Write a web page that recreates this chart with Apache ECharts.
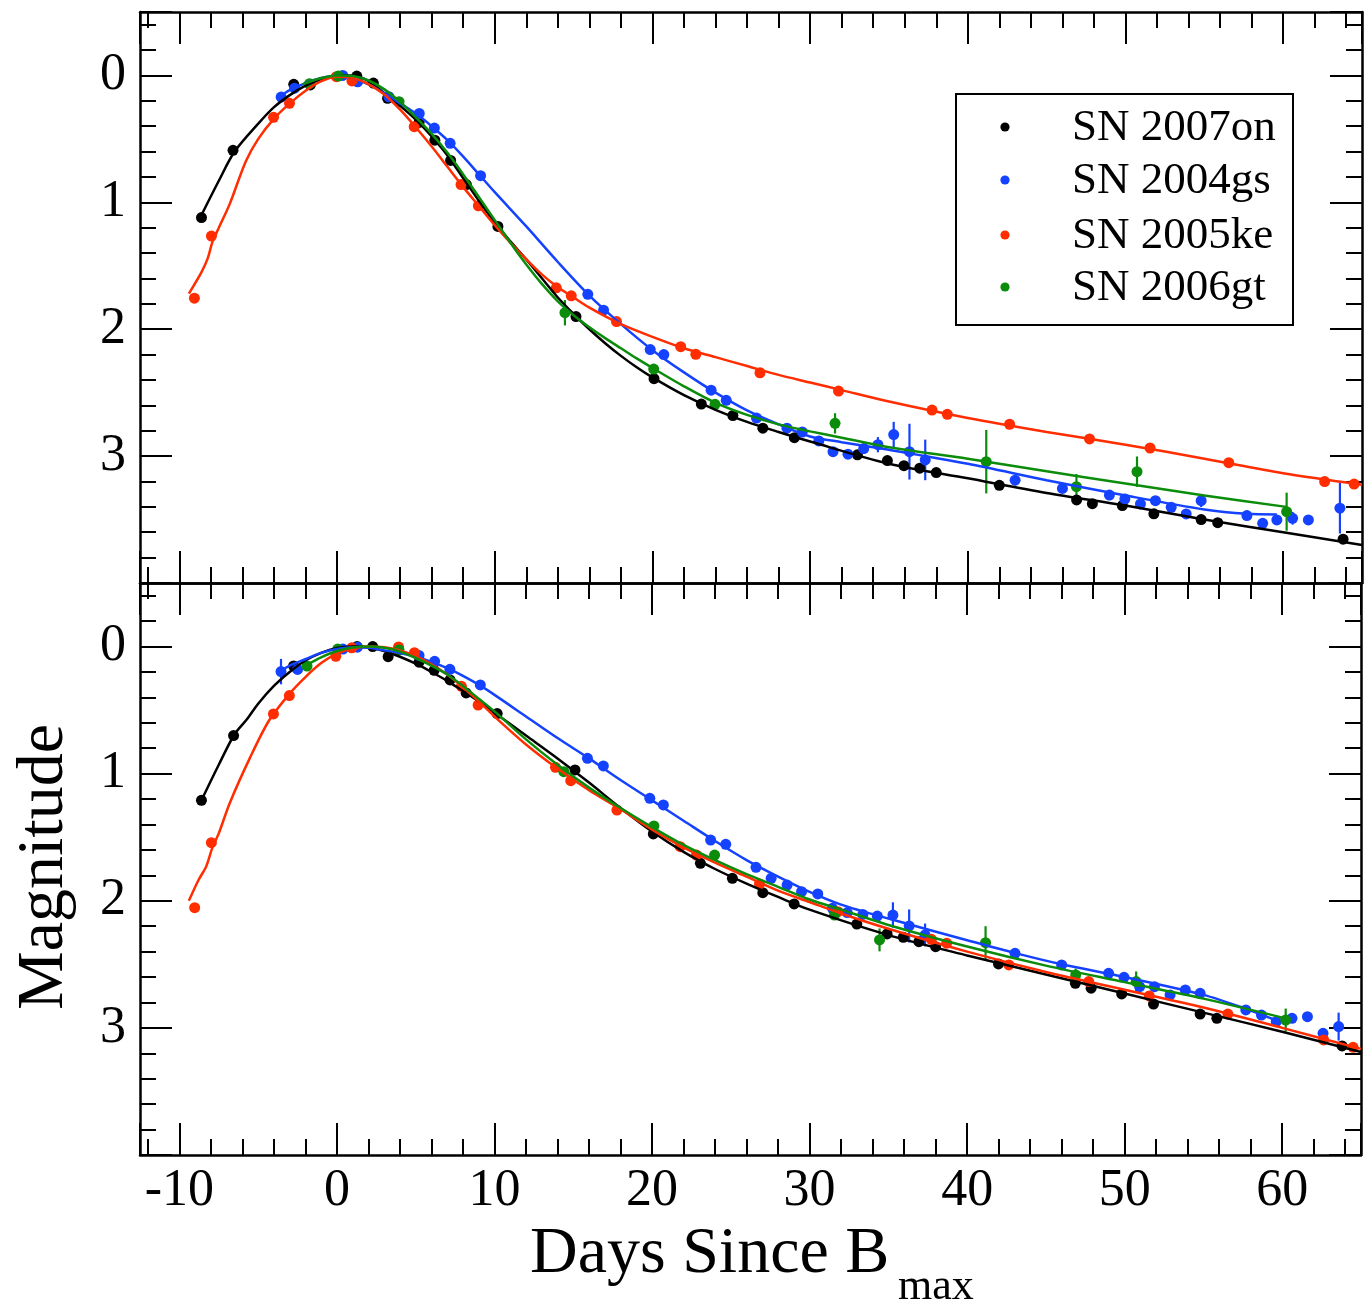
<!DOCTYPE html>
<html>
<head>
<meta charset="utf-8">
<script src="https://cdn.jsdelivr.net/npm/echarts@6/dist/echarts.min.js"></script>
<style>
  html, body { margin: 0; padding: 0; background: #fff; }
  #chart { width: 1364px; height: 1302px; }
</style>
</head>
<body>
<div id="chart"></div>
<script>
// Light curves: [day since B max, magnitude, (optional) error]
const seriesNames = ['SN 2007on', 'SN 2004gs', 'SN 2005ke', 'SN 2006gt'];
const seriesColors = ['#000000', '#1442ff', '#ff2d00', '#0b8c0b'];

// ---- upper panel ----
const topBlack = [[-8.6,1.12],[-6.6,0.59],[-2.75,0.07],[-1.7,0.075],[1.25,0.005],[2.3,0.06],[3.2,0.18],[5.2,0.37],[6.2,0.51],[7.2,0.67],[8.2,0.86],[10.2,1.19],[15.15,1.90],[20.1,2.39],[23.1,2.59],[25.1,2.68],[27.0,2.78],[29.0,2.855],[33.0,2.99],[34.9,3.035],[35.95,3.075],[36.95,3.095],[38.0,3.13],[42.0,3.23],[46.9,3.345],[47.9,3.375],[49.8,3.39],[51.8,3.455],[54.8,3.50],[55.85,3.525],[63.8,3.655]];
const topBlue = [[-3.55,0.17],[-2.7,0.1],[0.36,0.0],[1.3,0.05],[3.28,0.168],[5.21,0.30],[6.17,0.415],[7.17,0.535],[9.1,0.79],[15.9,1.725],[16.9,1.85],[19.86,2.16],[20.72,2.2],[23.72,2.48],[24.68,2.56],[26.6,2.70],[28.53,2.78],[29.5,2.81],[30.55,2.88],[31.45,2.965],[32.4,2.985,0.03],[33.4,2.94],[34.3,2.91,0.06],[35.3,2.83,0.1],[36.3,2.965,0.22],[37.3,3.03,0.16],[43.0,3.19,0.04],[46.0,3.255],[48.98,3.307],[49.96,3.338,0.04],[50.95,3.377],[51.9,3.351],[52.9,3.403],[53.85,3.456,0.04],[54.8,3.351,0.05],[57.7,3.469],[58.7,3.53],[59.6,3.503],[60.6,3.49,0.05],[61.6,3.503,0.03],[63.6,3.41,0.2]];
const topRed = [[-9.05,1.755],[-7.97,1.266],[-4.03,0.33],[-3.02,0.22],[-0.05,0.01],[0.94,0.043],[4.89,0.404],[7.86,0.86],[8.96,1.027],[13.9,1.674],[14.85,1.737],[17.72,1.94],[21.79,2.138],[22.75,2.198],[26.82,2.343],[31.8,2.487],[37.73,2.637],[38.7,2.671],[42.65,2.749],[47.72,2.865],[51.56,2.936],[56.55,3.052],[62.63,3.201],[64.5,3.22]];
const topGreen = [[-1.75,0.065],[0.08,0.005],[3.93,0.207],[14.45,1.87,0.1],[20.08,2.314],[23.97,2.592],[31.58,2.742,0.08],[41.17,3.044,0.25],[46.89,3.241,0.1],[50.73,3.123,0.12],[60.22,3.438,0.15]];

// template fits, upper panel
const topBlackFit = [[-8.6,1.1],[-7.5,0.83],[-6.5,0.6],[-5,0.38],[-4,0.25],[-3,0.155],[-2,0.08],[-1,0.03],[0,0.005],[1,0.0],[2,0.045],[3,0.14],[4,0.24],[5,0.35],[6,0.48],[7,0.63],[8,0.81],[9,0.99],[10,1.16],[11,1.31],[12,1.45],[13,1.6],[14,1.75],[15,1.88],[16,2.0],[17,2.11],[18,2.21],[19,2.3],[20,2.38],[22,2.52],[24,2.635],[26,2.73],[28,2.81],[30,2.885],[35,3.06],[40,3.175],[45,3.29],[50,3.39],[55,3.5],[60,3.6],[65,3.70]];
const topBlueFit = [[-3.8,0.18],[-3,0.115],[-2,0.06],[-1,0.02],[0,0.002],[1,0.02],[2,0.07],[3,0.14],[4,0.22],[5,0.3],[6,0.4],[7,0.51],[8,0.64],[9,0.78],[10,0.92],[12,1.19],[14,1.47],[16,1.735],[18,1.96],[20,2.165],[22,2.34],[24,2.5],[26,2.64],[28,2.75],[30,2.845],[32,2.89],[35,2.95],[40,3.06],[45,3.19],[50,3.31],[55,3.42],[57.7,3.455],[59.6,3.46]];
const topRedFit = [[-9.4,1.72],[-8.6,1.55],[-8.2,1.44],[-7.9,1.31],[-7.5,1.2],[-6.8,1.01],[-5.8,0.68],[-5,0.5],[-4,0.34],[-3,0.22],[-2,0.12],[-1,0.045],[0,0.01],[1,0.02],[2,0.07],[3,0.15],[4,0.27],[5,0.41],[6,0.56],[7,0.72],[8,0.88],[9,1.03],[10,1.18],[11,1.32],[12,1.45],[13,1.57],[14,1.67],[15,1.75],[16,1.83],[18,1.96],[20,2.06],[22,2.15],[24,2.22],[26,2.29],[28,2.36],[30,2.42],[32,2.48],[35,2.57],[40,2.70],[45,2.81],[50,2.91],[55,3.02],[60,3.135],[65,3.225]];
const topGreenFit = [[-2.2,0.07],[-1,0.02],[0,0.0],[1,0.005],[2,0.04],[3,0.11],[4,0.21],[5,0.33],[6,0.46],[7,0.61],[8,0.78],[9,0.96],[10,1.14],[11,1.32],[12,1.49],[13,1.645],[14,1.78],[15,1.89],[16,1.985],[17,2.07],[18,2.15],[19,2.23],[20,2.305],[22,2.45],[24,2.58],[26,2.675],[28,2.75],[30,2.805],[32,2.855],[35,2.93],[40,3.02],[45,3.12],[50,3.215],[55,3.31],[60.2,3.40]];

// ---- lower panel ----
const botBlack = [[-8.6,1.21],[-6.56,0.70],[-2.75,0.153],[1.28,0.0],[2.27,0.0],[3.25,0.08],[5.21,0.123],[6.17,0.187],[7.18,0.263],[8.2,0.365],[10.17,0.527],[15.11,0.971],[20.08,1.474],[23.07,1.705],[25.1,1.823],[27.03,1.936],[29.02,2.025],[33.0,2.183],[34.92,2.261],[35.95,2.287],[36.94,2.322],[38.0,2.361],[41.99,2.497],[46.87,2.649],[47.87,2.688],[49.81,2.733],[51.83,2.812],[54.79,2.891],[55.85,2.925],[63.8,3.142]];
const botBlue = [[-3.55,0.197,0.1],[-2.5,0.18],[0.38,0.02],[1.3,0.005],[5.21,0.07],[6.2,0.116],[7.17,0.179],[9.1,0.302],[15.9,0.879],[16.91,0.939],[19.86,1.194],[20.72,1.246],[23.72,1.522],[24.68,1.556],[26.6,1.737],[27.56,1.823],[28.57,1.876],[29.49,1.928],[30.52,1.946],[31.45,2.059],[32.39,2.093],[33.38,2.107],[34.3,2.12],[35.29,2.112,0.1],[36.32,2.198,0.13],[37.33,2.269,0.09],[43.04,2.413],[46.0,2.505],[48.98,2.571],[49.96,2.602],[50.95,2.676],[51.89,2.676],[52.88,2.741],[53.85,2.702],[54.79,2.728],[57.69,2.859],[58.68,2.899],[59.62,2.951],[60.62,2.925],[61.6,2.912],[62.59,3.043,0.04],[63.58,2.99,0.11]];
const botRed = [[-9.03,2.054],[-7.97,1.543],[-4.03,0.53],[-3.02,0.386],[-0.07,0.077],[0.94,0.01],[3.91,0.003],[4.92,0.048],[7.9,0.313],[8.96,0.46],[13.87,0.95],[14.84,1.055],[17.77,1.286],[21.79,1.574],[22.82,1.64],[26.82,1.868],[31.8,2.086],[37.73,2.303],[38.7,2.334],[42.65,2.505],[47.72,2.636],[51.56,2.749],[56.55,2.891],[62.63,3.095],[64.5,3.153]];
const botGreen = [[-1.9,0.153],[0.05,0.02],[3.94,0.027],[14.4,0.984],[20.12,1.411],[23.97,1.64],[31.58,2.112],[34.44,2.308,0.09],[41.17,2.33,0.13],[46.89,2.584,0.05],[50.73,2.636,0.08],[60.22,2.938,0.09]];

// template fits, lower panel
const botBlackFit = [[-8.6,1.21],[-7.5,0.93],[-6.5,0.69],[-5.7,0.57],[-5,0.45],[-4,0.31],[-3,0.2],[-2,0.11],[-1,0.05],[0,0.012],[1,0.0],[2,0.005],[3,0.035],[4,0.08],[5,0.135],[6,0.2],[7,0.27],[8,0.35],[9,0.43],[10,0.52],[12,0.70],[14,0.88],[16,1.07],[18,1.27],[20,1.455],[22,1.615],[24,1.75],[26,1.865],[28,1.97],[30,2.07],[35,2.27],[40,2.43],[45,2.58],[50,2.73],[55,2.88],[60,3.03],[65,3.19]];
const botBlueFit = [[-3.8,0.21],[-3,0.15],[-2,0.1],[-1,0.05],[0,0.02],[1,0.005],[2,0.01],[3,0.03],[4,0.05],[5,0.08],[6,0.12],[7,0.17],[8,0.23],[9,0.3],[10,0.38],[12,0.55],[14,0.72],[16,0.88],[18,1.05],[20,1.21],[22,1.37],[24,1.53],[26,1.68],[28,1.81],[30,1.93],[32,2.03],[35,2.14],[40,2.31],[43,2.41],[46,2.5],[50,2.6],[55,2.74],[57.7,2.85],[59.6,2.94]];
const botRedFit = [[-9.4,2.0],[-8.8,1.84],[-8.3,1.73],[-7.9,1.58],[-7.5,1.47],[-6.8,1.23],[-5.5,0.87],[-4.3,0.58],[-3,0.37],[-2,0.24],[-1,0.13],[0,0.055],[1,0.015],[2,0.0],[3,0.005],[4,0.03],[5,0.075],[6,0.14],[7,0.22],[8,0.32],[9,0.43],[10,0.55],[12,0.77],[14,0.96],[16,1.13],[18,1.28],[20,1.44],[22,1.58],[24,1.7],[26,1.81],[28,1.92],[30,2.01],[32,2.1],[35,2.22],[40,2.40],[45,2.56],[50,2.70],[55,2.84],[60,3.0],[65,3.165]];
const botGreenFit = [[-2,0.15],[-1,0.085],[0,0.035],[1,0.008],[2,0.0],[3,0.01],[4,0.04],[5,0.09],[6,0.15],[7,0.22],[8,0.31],[9,0.41],[10,0.51],[12,0.73],[14,0.93],[16,1.11],[18,1.27],[20,1.42],[22,1.56],[24,1.68],[26,1.79],[28,1.89],[30,1.99],[32,2.07],[35,2.19],[40,2.36],[45,2.51],[50,2.64],[55,2.77],[60.2,2.925]];

const xRange = [-12.5, 65];
const yRange = [-0.5, 4];
const yTickLabels = ['0', '1', '2', '3'];
const xTickLabels = ['-10', '0', '10', '20', '30', '40', '50', '60'];

const SERIF = "'Liberation Serif', 'DejaVu Serif', serif";

const chart = echarts.init(document.getElementById('chart'), null, { renderer: 'canvas' });

function xAxisDef(gridIndex, position, showLabels) {
  return {
    type: 'value', gridIndex, position,
    min: xRange[0], max: xRange[1],
    minInterval: 10, maxInterval: 10,
    axisLine: { onZero: false, lineStyle: { color: '#000', width: 2.5 } },
    axisTick: { inside: true, length: 32, lineStyle: { color: '#000', width: 2 } },
    minorTick: { show: true, splitNumber: 5, length: 16, lineStyle: { color: '#000', width: 2 } },
    splitLine: { show: false }, minorSplitLine: { show: false },
    axisLabel: showLabels ? {
      show: true, margin: 10, color: '#000', fontFamily: SERIF, fontSize: 52,
      showMinLabel: true, showMaxLabel: true,
      formatter: v => (xTickLabels.includes(String(v)) ? String(v) : '')
    } : { show: false }
  };
}

function yAxisDef(gridIndex, position, showLabels) {
  return {
    type: 'value', gridIndex, position, inverse: true,
    min: yRange[0], max: yRange[1],
    minInterval: 1, maxInterval: 1,
    axisLine: { onZero: false, lineStyle: { color: '#000', width: 2.5 } },
    axisTick: { inside: true, length: 32, lineStyle: { color: '#000', width: 2 } },
    minorTick: { show: true, splitNumber: 5, length: 16, lineStyle: { color: '#000', width: 2 } },
    splitLine: { show: false }, minorSplitLine: { show: false },
    axisLabel: showLabels ? {
      show: true, margin: 14, color: '#000', fontFamily: SERIF, fontSize: 52,
      showMinLabel: true, showMaxLabel: true,
      formatter: v => (yTickLabels.includes(String(v)) ? String(v) : '')
    } : { show: false }
  };
}

function fitSeries(data, color, axisIdx) {
  return {
    type: 'line', data, xAxisIndex: axisIdx, yAxisIndex: axisIdx,
    smooth: 0.3, showSymbol: false, symbol: 'none', silent: true,
    lineStyle: { color, width: 2.5 }, clip: true
  };
}

function pointSeries(data, color, axisIdx) {
  return {
    type: 'scatter', data: data.map(d => [d[0], d[1]]), xAxisIndex: axisIdx, yAxisIndex: axisIdx,
    symbol: 'circle', symbolSize: 11, silent: true,
    itemStyle: { color, opacity: 1 }
  };
}

function errorSeries(data, color, axisIdx) {
  return {
    type: 'custom', xAxisIndex: axisIdx, yAxisIndex: axisIdx, silent: true,
    data: data.filter(d => d.length > 2).map(d => [d[0], d[1], d[2]]),
    encode: { x: 0, y: 1 },
    renderItem: (params, api) => {
      const x = api.value(0), y = api.value(1), e = api.value(2);
      const a = api.coord([x, y - e]);
      const b = api.coord([x, y + e]);
      return {
        type: 'line',
        shape: { x1: a[0], y1: a[1], x2: b[0], y2: b[1] },
        style: { stroke: color, lineWidth: 2.2 }
      };
    }
  };
}

const panels = [
  { axis: 0, pts: [topBlack, topBlue, topRed, topGreen], fits: [topBlackFit, topBlueFit, topRedFit, topGreenFit] },
  { axis: 2, pts: [botBlack, botBlue, botRed, botGreen], fits: [botBlackFit, botBlueFit, botRedFit, botGreenFit] }
];

const series = [];
panels.forEach(p => {
  for (let i = 0; i < 4; i++) {
    series.push(fitSeries(p.fits[i], seriesColors[i], p.axis));
    series.push(errorSeries(p.pts[i], seriesColors[i], p.axis));
    series.push(pointSeries(p.pts[i], seriesColors[i], p.axis));
  }
});

// legend box drawn in the upper panel
const legendRows = [127, 180, 235, 287];
const legendGraphics = [{
  type: 'rect', shape: { x: 956, y: 94, width: 337, height: 231 },
  style: { fill: '#fff', stroke: '#000', lineWidth: 2 }, z: 10
}];
seriesNames.forEach((name, i) => {
  legendGraphics.push({
    type: 'circle', shape: { cx: 1005, cy: legendRows[i], r: 4.6 },
    style: { fill: seriesColors[i] }, z: 11
  });
  legendGraphics.push({
    type: 'text', x: 1072, y: legendRows[i] + 1, z: 11,
    style: { text: name, font: `45px ${SERIF}`, fill: '#000', align: 'left', verticalAlign: 'middle' }
  });
});

const option = {
  animation: false,
  backgroundColor: '#fff',
  grid: [
    { left: 140, top: 12, width: 1222, height: 571 },
    { left: 140, top: 583, width: 1222, height: 572 }
  ],
  xAxis: [
    xAxisDef(0, 'bottom', false),
    xAxisDef(0, 'top', false),
    xAxisDef(1, 'bottom', true),
    xAxisDef(1, 'top', false)
  ],
  yAxis: [
    yAxisDef(0, 'left', true),
    yAxisDef(0, 'right', false),
    yAxisDef(1, 'left', true),
    yAxisDef(1, 'right', false)
  ],
  series,
  graphic: legendGraphics.concat([
    {
      type: 'text', x: 45, y: 867, rotation: Math.PI / 2,
      style: { text: 'Magnitude', font: `66px ${SERIF}`, fill: '#000', align: 'center', verticalAlign: 'middle' }
    },
    {
      type: 'text', x: 530, y: 1255,
      style: { text: 'Days Since B', font: `66px ${SERIF}`, fill: '#000', align: 'left', verticalAlign: 'middle' }
    },
    {
      type: 'text', x: 898, y: 1287,
      style: { text: 'max', font: `44px ${SERIF}`, fill: '#000', align: 'left', verticalAlign: 'middle' }
    }
  ])
};

chart.setOption(option);
</script>
</body>
</html>
